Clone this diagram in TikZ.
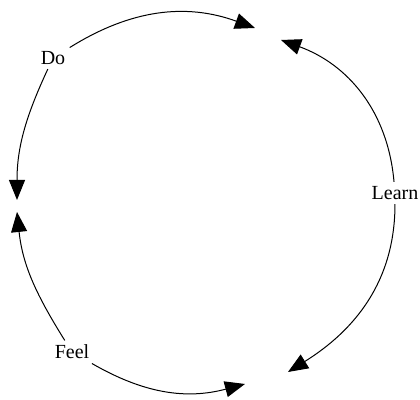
\documentclass[tikz,border=0pt]{standalone}
\usepackage{fontspec}
\setmainfont{Liberation Serif}
\usetikzlibrary{arrows.meta}

\begin{document}
\begin{tikzpicture}[x=0.5pt, y=0.5pt,
      >={Triangle[length=10pt, width=8pt]}, line width=0.5pt,
      lbl/.style={inner sep=2pt, font=\fontsize{10}{12}\selectfont}]
    \useasboundingbox (0,0) rectangle (420,400);
    \node[lbl] (do)    at (53,342)  {Do};
    \node[lbl] (learn) at (395,207) {Learn};
    \node[lbl] (feel)  at (72,48)   {Feel};
    \coordinate (do-s)    at (17,200);
    \coordinate (do-e)    at (255,372);
    \coordinate (learn-n) at (281,360);
    \coordinate (learn-s) at (288,28);
    \coordinate (feel-n)  at (17,188);
    \coordinate (feel-e)  at (245,16);
    \draw[->] (do) to[out=32, in=160] (do-e);
    \draw[->] (do) to[out=245, in=90] (do-s);
    \draw[->] (learn) to[out=95, in=-20] (learn-n);
    \draw[->] (learn) to[out=-90, in=32] (learn-s);
    \draw[->] (feel) to[out=122, in=-84] (feel-n);
    \draw[->] (feel) to[out=-30, in=195] (feel-e);
  \end{tikzpicture}
\end{document}
